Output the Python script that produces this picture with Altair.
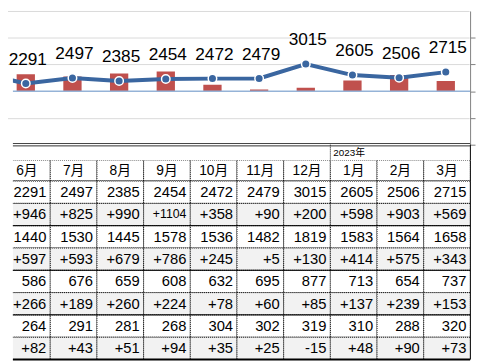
import altair as alt
import pandas as pd

# ---------------- data ----------------
months = ["6月", "7月", "8月", "9月", "10月", "11月", "12月", "1月", "2月", "3月"]
prev_month = "5月"          # only its line segment enters from the left edge
prev_total = 2680           # estimated from that segment
total = [2291, 2497, 2385, 2454, 2472, 2479, 3015, 2605, 2506, 2715]
total_diff = [946, 825, 990, 1104, 358, 90, 200, 598, 903, 569]
row2 = [1440, 1530, 1445, 1578, 1536, 1482, 1819, 1583, 1564, 1658]
row2_diff = [597, 593, 679, 786, 245, 5, 130, 414, 575, 343]
row3 = [586, 676, 659, 608, 632, 695, 877, 713, 654, 737]
row3_diff = [266, 189, 260, 224, 78, 60, 85, 137, 239, 153]
row4 = [264, 291, 281, 268, 304, 302, 319, 310, 288, 320]
row4_diff = [82, 43, 51, 94, 35, 25, -15, 48, 90, 73]
year_label = "2023年"
year_month = "1月"

# ---------------- style ----------------
BLUE = "#3a66a0"
RED = "#c0504d"
ZERO = "#95b3d7"
GRID = "#d9d9d9"
SHADE = "#f2f2f2"
FONT = "Liberation Sans, Arial, Noto Sans CJK JP"
W = 465
TOP_H = 136
BAND = alt.Scale(type="band", paddingInner=0, paddingOuter=0)

chart_months = [prev_month] + months
line_df = pd.DataFrame({"m": chart_months, "v": [prev_total] + total,
                        "idx": list(range(len(chart_months)))})
pts_df = pd.DataFrame({"m": months, "v": total})
bar_df = pd.DataFrame({"m": months, "d": total_diff})
zero_df = pd.DataFrame({"d": [0]})

xs_chart = alt.Scale(type="band", domain=chart_months, range=[-58.1, 464.0],
                     paddingInner=0, paddingOuter=0)
x_bar = alt.X("m:N", scale=xs_chart, axis=None)
x_pt = alt.X("m:N", scale=xs_chart, axis=None, bandPosition=0.5)

y_bar = alt.Y("d:Q", scale=alt.Scale(domain=[-3000, 4500], range=[TOP_H, 0]),
              axis=alt.Axis(orient="right", values=[-3000, -1500, 0, 1500, 3000],
                            labels=False, grid=False, title=None,
                            domainColor="#7f7f7f", tickColor="#7f7f7f", tickSize=5))
y_line = alt.Y("v:Q", scale=alt.Scale(domain=[0, 5000], range=[TOP_H, 0]),
               axis=alt.Axis(orient="left", values=[1000, 3000, 4000, 5000], labels=False,
                             ticks=False, domain=False, grid=True, gridColor=GRID,
                             title=None))

bars = alt.Chart(bar_df).mark_bar(size=18.6, color=RED, clip=True).encode(x=x_bar, y=y_bar)
zero_rule = alt.Chart(zero_df).mark_rule(color=ZERO, strokeWidth=1.5).encode(y=y_bar)
line = alt.Chart(line_df).mark_line(color=BLUE, strokeWidth=4, clip=True).encode(
    x=x_pt, y=y_line, order="idx:Q")
pts = alt.Chart(pts_df).mark_point(shape="circle", filled=True, fill=BLUE, stroke="white",
                                   strokeWidth=1.5, size=75, opacity=1, clip=True).encode(
    x=x_pt, y=y_line)
labels = alt.Chart(pts_df).mark_text(font=FONT, fontSize=17.5, color="black", dy=-24, dx=2,
                                     baseline="middle").encode(
    x=x_pt, y=y_line, text="v:Q")

top = alt.layer(alt.layer(bars, zero_rule), alt.layer(line, pts, labels)).resolve_scale(
    y="independent").properties(width=W, height=TOP_H)

# ---------------- table ----------------
xs_tab = alt.Scale(type="band", domain=months, range=[-9.5, 465.3],
                   paddingInner=0, paddingOuter=0)
x_cell = alt.X("m:N", scale=xs_tab, axis=None)
x_right = alt.X("m:N", scale=xs_tab, axis=None, bandPosition=1)
x_mid = alt.X("m:N", scale=xs_tab, axis=None, bandPosition=0.5)
x_left = alt.X("m:N", scale=xs_tab, axis=None, bandPosition=0)
right_df = pd.DataFrame({"m": [months[-1]]})
h_df = pd.DataFrame({"r": ["h"]})
y_htop = alt.Y("r:N", scale=BAND, axis=None, bandPosition=0)

# header row with the year
hdr_df = pd.DataFrame({"m": [year_month], "label": [year_label], "r": ["h"]})
hdr_sep = alt.Chart(hdr_df).mark_rule(color="black", strokeDash=[1, 1]).encode(x=x_left)
hdr_txt = alt.Chart(hdr_df).mark_text(font=FONT, fontSize=10, align="left", dx=3,
                                      baseline="middle", color="black").encode(
    x=x_left, y=alt.Y("r:N", scale=BAND, axis=None, bandPosition=0.5), text="label:N")
hdr_top1 = alt.Chart(h_df).mark_rule(color="#404040", strokeWidth=1, yOffset=-1.2).encode(y=y_htop)
hdr_top2 = alt.Chart(h_df).mark_rule(color="#303030", strokeWidth=1, yOffset=1.2).encode(y=y_htop)
hdr_right = alt.Chart(right_df).mark_rule(color="black").encode(x=x_right)
hdr = alt.layer(hdr_sep, hdr_txt, hdr_top1, hdr_top2, hdr_right).properties(width=W, height=16)

# month row
mon_df = pd.DataFrame({"m": months, "r": ["mon"] * len(months)})
mon_cells = alt.Chart(mon_df).mark_rect(fill="white", stroke="black", strokeDash=[1, 1],
                                        strokeWidth=1, clip=True).encode(
    x=x_cell, y=alt.Y("r:N", scale=BAND, axis=None))
mon_txt = alt.Chart(mon_df).mark_text(font=FONT, fontSize=14, color="black", baseline="middle",
                                      clip=True).encode(
    x=x_mid, y=alt.Y("r:N", scale=BAND, axis=None, bandPosition=0.5), text="m:N")
mon_bot = alt.Chart(pd.DataFrame({"r": ["mon"]})).mark_rule(color="black").encode(
    y=alt.Y("r:N", scale=BAND, axis=None, bandPosition=1))
mon_right = alt.Chart(right_df).mark_rule(color="black").encode(x=x_right)
mon = alt.layer(mon_cells, mon_txt, mon_bot, mon_right).properties(width=W, height=21)

# data rows
row_ids = ["r1", "r1d", "r2", "r2d", "r3", "r3d", "r4", "r4d"]
row_vals = [total, total_diff, row2, row2_diff, row3, row3_diff, row4, row4_diff]
recs = []
for rid, vals in zip(row_ids, row_vals):
    is_diff = rid.endswith("d")
    for m, v in zip(months, vals):
        recs.append({"m": m, "r": rid, "kind": "diff" if is_diff else "val",
                     "label": f"{v:+d}" if is_diff else f"{v:d}"})
tab_df = pd.DataFrame(recs)
ys_tab = alt.Scale(type="band", domain=row_ids, paddingInner=0, paddingOuter=0)
cells = alt.Chart(tab_df).mark_rect(stroke="black", strokeDash=[1, 1], strokeWidth=1,
                                    clip=True).encode(
    x=x_cell, y=alt.Y("r:N", scale=ys_tab, axis=None),
    fill=alt.Fill("kind:N", scale=alt.Scale(domain=["val", "diff"], range=["white", SHADE]),
                  legend=None))
txt = alt.Chart(tab_df).mark_text(font=FONT, color="black", align="right", dx=-4,
                                  baseline="middle", clip=True).encode(
    x=x_right, y=alt.Y("r:N", scale=ys_tab, axis=None, bandPosition=0.5), text="label:N",
    size=alt.condition("length(datum.label) > 4", alt.value(12.5), alt.value(15)))
solid = alt.Chart(pd.DataFrame({"r": ["r1d", "r2d", "r3d"]})).mark_rule(
    color="black", strokeWidth=1).encode(y=alt.Y("r:N", scale=ys_tab, axis=None, bandPosition=1))
bottom = alt.Chart(pd.DataFrame({"r": ["r4d"]})).mark_rule(color="black", strokeWidth=2).encode(
    y=alt.Y("r:N", scale=ys_tab, axis=None, bandPosition=1))
tab_right = alt.Chart(right_df).mark_rule(color="black").encode(x=x_right)
table = alt.layer(cells, txt, solid, bottom, tab_right).properties(width=W, height=181.5)

chart = alt.vconcat(top, hdr, mon, table, spacing=0, bounds="flush").properties(
    padding=0, background="white"
).configure_view(stroke=None).configure_axis(minExtent=0)

chart.save("out.html", embed_options={"renderer": "svg", "actions": False})
